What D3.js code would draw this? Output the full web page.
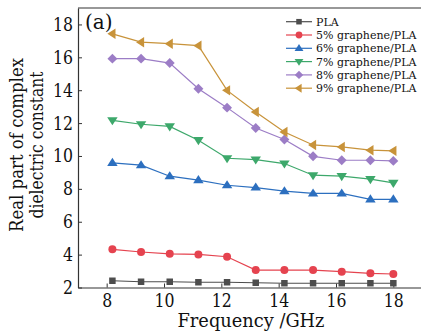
<!DOCTYPE html>
<html>
<head>
<meta charset="utf-8">
<script src="https://cdn.jsdelivr.net/npm/d3@7"></script>
<style>
  html, body { margin: 0; padding: 0; background: #fff; }
  svg { display: block; }
  text { font-family: "DejaVu Serif", serif; fill: #111; }
</style>
</head>
<body>
<svg id="chart" width="421" height="334"></svg>
<script>
// Frequency points (GHz)
const freq = [8.2, 9.2, 10.2, 11.2, 12.2, 13.2, 14.2, 15.2, 16.2, 17.2, 18.0];

// Real part of complex dielectric constant for each sample
const pla = [2.41, 2.35, 2.35, 2.32, 2.32, 2.29, 2.26, 2.26, 2.26, 2.26, 2.26];
const g5  = [4.32, 4.16, 4.05, 4.01, 3.87, 3.06, 3.06, 3.06, 2.96, 2.86, 2.82];
const g6  = [9.58, 9.44, 8.77, 8.53, 8.22, 8.08, 7.86, 7.72, 7.72, 7.36, 7.36];
const g7  = [12.17, 11.93, 11.80, 10.96, 9.86, 9.78, 9.54, 8.83, 8.77, 8.59, 8.36];
const g8  = [15.92, 15.92, 15.65, 14.09, 12.94, 11.70, 11.00, 9.98, 9.74, 9.74, 9.70];
const g9  = [17.43, 16.92, 16.83, 16.71, 13.99, 12.67, 11.46, 10.67, 10.55, 10.35, 10.31];

const seriesNames = ["PLA", "5% graphene/PLA", "6% graphene/PLA", "7% graphene/PLA", "8% graphene/PLA", "9% graphene/PLA"];
const seriesValues = [pla, g5, g6, g7, g8, g9];
const seriesColors = ["#4d4d4d", "#e5434f", "#2c6fbf", "#3da86b", "#9c7dc6", "#c8933a"];
const seriesMarkers = ["square", "circle", "up", "down", "diamond", "left"];

const xTicks = [8, 10, 12, 14, 16, 18];
const yTicks = [2, 4, 6, 8, 10, 12, 14, 16, 18];

const svg = d3.select("#chart");

const x = d3.scaleLinear().domain([7, 19]).range([78, 422]);
const y = d3.scaleLinear().domain([2, 19]).range([287.5, 8]);

// Frame: top border plus the two axes (ticks point inward)
svg.append("line")
  .attr("x1", x(7)).attr("x2", x(19))
  .attr("y1", y(19)).attr("y2", y(19))
  .attr("stroke", "#333").attr("stroke-width", 1.2);

const xAxis = svg.append("g")
  .attr("transform", `translate(0,${y(2)})`)
  .call(d3.axisBottom(x).tickValues(xTicks).tickSizeInner(-4).tickSizeOuter(0).tickPadding(6));
const yAxis = svg.append("g")
  .attr("transform", `translate(${x(7)},0)`)
  .call(d3.axisLeft(y).tickValues(yTicks).tickSizeInner(-4).tickSizeOuter(0).tickPadding(5));

[xAxis, yAxis].forEach(g => {
  g.select(".domain").attr("stroke", "#333").attr("stroke-width", 1.2);
  g.selectAll(".tick line").attr("stroke", "#333").attr("stroke-width", 1);
  g.selectAll(".tick text")
    .attr("font-family", "DejaVu Serif, serif")
    .attr("font-size", 18.5)
    .attr("fill", "#111")
    .attr("textLength", d => String(d).length * 10)
    .attr("lengthAdjust", "spacingAndGlyphs");
});

// Marker shapes
function markerPath(kind, size) {
  const s = size;
  switch (kind) {
    case "square": return d3.symbol(d3.symbolSquare, s * s)();
    case "circle": return d3.symbol(d3.symbolCircle, Math.PI * (s / 2) * (s / 2))();
    case "diamond": {
      const r = s * 0.62;
      return `M0,${-r}L${r},0L0,${r}L${-r},0Z`;
    }
    default: {
      const h = s * 0.9, w = s * 0.58;
      let pts;
      if (kind === "up") pts = [[0, -h * 0.62], [w, h * 0.38], [-w, h * 0.38]];
      else if (kind === "down") pts = [[0, h * 0.62], [w, -h * 0.38], [-w, -h * 0.38]];
      else pts = [[-h * 0.62, 0], [h * 0.38, -w], [h * 0.38, w]];
      return "M" + pts.map(p => p.join(",")).join("L") + "Z";
    }
  }
}
const markerSize = { square: 6.5, circle: 8, up: 9, down: 9, diamond: 8, left: 9 };

const line = d3.line().x(d => x(d[0])).y(d => y(d[1]));

seriesValues.forEach((vals, i) => {
  const pts = freq.map((f, j) => [f, vals[j]]);
  const g = svg.append("g");
  g.append("path")
    .attr("d", line(pts))
    .attr("fill", "none")
    .attr("stroke", seriesColors[i])
    .attr("stroke-width", 1.2);
  g.selectAll("path.m")
    .data(pts)
    .join("path")
    .attr("class", "m")
    .attr("transform", d => `translate(${x(d[0])},${y(d[1])})`)
    .attr("d", markerPath(seriesMarkers[i], markerSize[seriesMarkers[i]]))
    .attr("fill", seriesColors[i]);
});

// Legend
const legend = svg.append("g").attr("transform", "translate(286,21.7)");
seriesNames.forEach((name, i) => {
  const row = legend.append("g").attr("transform", `translate(0,${i * 13.3})`);
  row.append("line")
    .attr("x1", 0).attr("x2", 26).attr("y1", 0).attr("y2", 0)
    .attr("stroke", seriesColors[i]).attr("stroke-width", 1.2);
  row.append("path")
    .attr("transform", "translate(13,0)")
    .attr("d", markerPath(seriesMarkers[i], markerSize[seriesMarkers[i]] * 0.85))
    .attr("fill", seriesColors[i]);
  row.append("text")
    .attr("x", 30).attr("y", 4)
    .attr("font-size", 11)
    .text(name);
});

// Panel label
svg.append("text")
  .attr("x", 85).attr("y", 29)
  .attr("font-size", 20)
  .text("(a)");

// Axis titles
svg.append("text")
  .attr("x", 251).attr("y", 326.5)
  .attr("text-anchor", "middle")
  .attr("font-size", 18.5)
  .attr("textLength", 147)
  .attr("lengthAdjust", "spacingAndGlyphs")
  .text("Frequency /GHz");

const yTitle = svg.append("g").attr("transform", "translate(0,145) rotate(-90)");
yTitle.append("text")
  .attr("x", 0).attr("y", 22.5)
  .attr("text-anchor", "middle")
  .attr("font-size", 18)
  .attr("textLength", 174)
  .attr("lengthAdjust", "spacingAndGlyphs")
  .text("Real part of complex");
yTitle.append("text")
  .attr("x", 0).attr("y", 43)
  .attr("text-anchor", "middle")
  .attr("font-size", 18)
  .attr("textLength", 147)
  .attr("lengthAdjust", "spacingAndGlyphs")
  .text("dielectric constant");
</script>
</body>
</html>
